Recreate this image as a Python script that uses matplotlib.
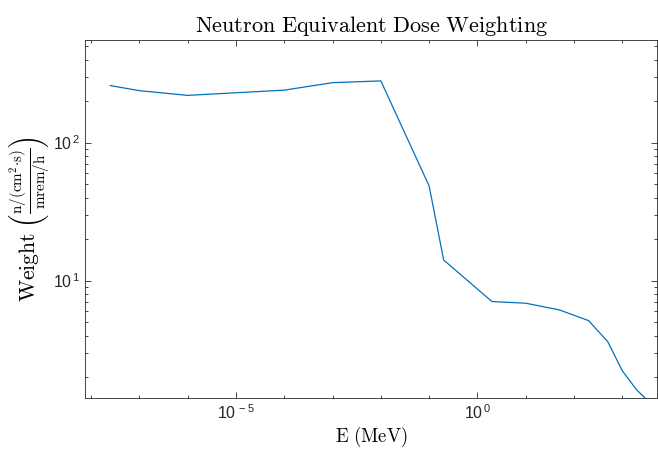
import numpy as np
import matplotlib
matplotlib.use('Agg')
import matplotlib.pyplot as plt
from matplotlib.ticker import FixedLocator, NullFormatter, FuncFormatter

plt.rcParams['mathtext.fontset'] = 'cm'
plt.rcParams['font.family'] = ['Liberation Sans', 'DejaVu Sans']

# neutron energy (MeV) and flux per unit dose rate
energy = [2.5e-8, 1e-7, 1e-6, 1e-4, 1e-3, 1e-2, 1e-1, 2e-1, 2, 10, 50, 200, 500, 1000, 2000, 5000]
weight = [259, 238, 220, 240, 272, 280, 48.5, 14.1, 7.05, 6.86, 6.13, 5.13, 3.61, 2.22, 1.61, 1.18]

x_major = [1e-5, 1e0]
x_minor = [10.0 ** k for k in range(-8, 4)]
y_major = [10, 100]
y_minor = [2, 3, 4, 5, 6, 7, 8, 9, 20, 30, 40, 50, 60, 70, 80, 90, 200, 300, 400, 500]


def pow10(v, pos):
    e = int(round(np.log10(v)))
    return r'$\mathdefault{10^{\,%d}}$' % e


fig = plt.figure(figsize=(6.58, 4.51), dpi=100)
ax = fig.add_axes([0.1296, 0.1175, 0.869, 0.794])

ax.loglog(energy, weight, color='#0072BD', lw=0.9)

ax.set_xlim(10 ** -8.12, 10 ** 3.72)
ax.set_ylim(1.41, 555)

ax.xaxis.set_major_locator(FixedLocator(x_major))
ax.xaxis.set_minor_locator(FixedLocator(x_minor))
ax.yaxis.set_major_locator(FixedLocator(y_major))
ax.yaxis.set_minor_locator(FixedLocator(y_minor))
ax.xaxis.set_major_formatter(FuncFormatter(pow10))
ax.yaxis.set_major_formatter(FuncFormatter(pow10))
ax.xaxis.set_minor_formatter(NullFormatter())
ax.yaxis.set_minor_formatter(NullFormatter())

ax.tick_params(which='both', direction='in', top=True, right=True,
               color='#262626', labelcolor='#262626', labelsize=11.5, width=0.6)
ax.tick_params(which='major', length=4.5)
ax.tick_params(which='minor', length=2.5)
for s in ax.spines.values():
    s.set_color('#262626')
    s.set_linewidth(0.6)

ax.set_title(r'$\mathrm{Neutron\ Equivalent\ Dose\ Weighting}$', fontsize=16, pad=6)
ax.set_xlabel(r'$\mathrm{E\ (MeV)}$', fontsize=13.5, labelpad=2)
ax.set_ylabel(r'$\mathrm{Weight}\ \left(\frac{\mathrm{n/(cm^2{\cdot}s)}}{\mathrm{mrem/h}}\right)$',
              fontsize=15.5, labelpad=0)

fig.savefig('out.png', dpi=100)
